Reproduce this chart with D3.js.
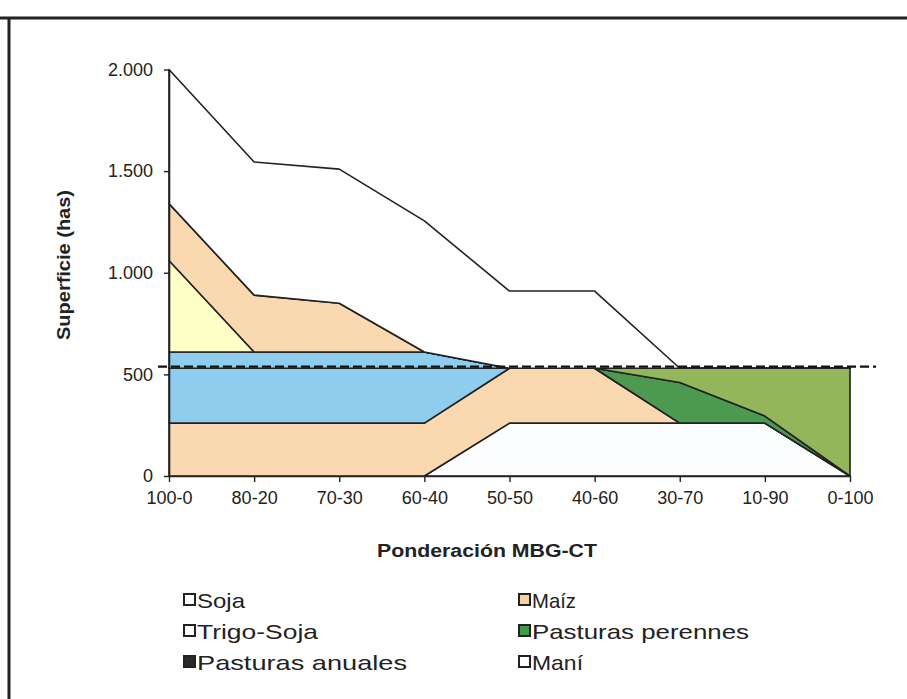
<!DOCTYPE html>
<html>
<head>
<meta charset="utf-8">
<script src="https://cdn.jsdelivr.net/npm/d3@7"></script>
<style>
  body { margin: 0; background: #fff; }
  svg { display: block; font-family: "Liberation Sans", Arial, sans-serif; }
</style>
</head>
<body>
<div id="chart"></div>
<script>
// categories on the x axis
const ponderaciones = ["100-0", "80-20", "70-30", "60-40", "50-50", "40-60", "30-70", "10-90", "0-100"];

// lower block (below the 530 ha limit), bottom to top
const bajoManí        = [0, 0, 0, 0, 260, 260, 260, 260, 0];
const bajoMaíz        = [260, 260, 260, 260, 270, 270, 0, 0, 0];
const bajoTrigoSoja   = [270, 270, 270, 270, 0, 0, 0, 0, 0];
const bajoPastPeren   = [0, 0, 0, 0, 0, 0, 200, 35, 0];
const bajoPastAnual   = [0, 0, 0, 0, 0, 0, 70, 235, 530];
// upper block, stacked on top
const altoTrigoSoja   = [80, 80, 80, 80, 0, 0, 0, 0, 0];
const altoPastAnual   = [450, 0, 0, 0, 0, 0, 0, 0, 0];
const altoMaíz        = [280, 280, 240, 0, 0, 0, 0, 0, 0];
const altoSoja        = [660, 655, 660, 645, 380, 380, 0, 0, 0];

const limite = 538;

const yTicks = [0, 500, 1000, 1500, 2000];
const yTickLabels = ["0", "500", "1.000", "1.500", "2.000"];

const legendNames = ["Soja", "Maíz", "Trigo-Soja", "Pasturas perennes", "Pasturas anuales", "Maní"];
const legendColors = ["#ffffff", "#f5d3a3", "#ffffff", "#3f9a4a", "#2a2a2a", "#ffffff"];
const legendWidths = [48, 44, 121, 217, 210, 51];

const layers = [
  { vals: bajoManí, fill: "#fcfdfe" },
  { vals: bajoMaíz, fill: "#fad8b0" },
  { vals: bajoTrigoSoja, fill: "#8ecdee" },
  { vals: bajoPastPeren, fill: "#4c9a50" },
  { vals: bajoPastAnual, fill: "#94b65a" },
  { vals: altoTrigoSoja, fill: "#8ecdee" },
  { vals: altoPastAnual, fill: "#ffffc8" },
  { vals: altoMaíz, fill: "#fad8b0" },
  { vals: altoSoja, fill: "#ffffff" }
];

const W = 907, H = 699;
const svg = d3.select("#chart").append("svg")
  .attr("width", W).attr("height", H);

svg.append("rect").attr("width", W).attr("height", H).attr("fill", "#fff");

// frame
svg.append("line").attr("x1", 0).attr("x2", W).attr("y1", 18).attr("y2", 18)
  .attr("stroke", "#222").attr("stroke-width", 3);
svg.append("line").attr("x1", 9).attr("x2", 9).attr("y1", 17).attr("y2", H)
  .attr("stroke", "#222").attr("stroke-width", 3);

const x = d3.scalePoint().domain(ponderaciones).range([169, 850]);
const y = d3.scaleLinear().domain([0, 2000]).range([476, 69.5]);

// build stacks
const data = ponderaciones.map((p, i) => {
  const row = { p };
  layers.forEach((l, j) => row["s" + j] = l.vals[i]);
  return row;
});
const stack = d3.stack().keys(layers.map((l, j) => "s" + j));
const series = stack(data);

const area = d3.area()
  .x(d => x(d.data.p))
  .y0(d => y(d[0]))
  .y1(d => y(d[1]));

svg.append("g").selectAll("path")
  .data(series)
  .join("path")
    .attr("d", area)
    .attr("fill", (d, i) => layers[i].fill)
    .attr("stroke", "#222")
    .attr("stroke-width", 1.6)
    .attr("stroke-linejoin", "round");

// limit line
svg.append("line")
  .attr("x1", x(ponderaciones[0]) - 11)
  .attr("x2", x(ponderaciones[ponderaciones.length - 1]) + 26)
  .attr("y1", y(limite)).attr("y2", y(limite))
  .attr("stroke", "#111").attr("stroke-width", 2.4)
  .attr("stroke-dasharray", "9,4");

// axes
const yAxis = svg.append("g")
  .attr("transform", `translate(${x(ponderaciones[0])},0)`)
  .call(d3.axisLeft(y).tickValues(yTicks).tickFormat((d, i) => yTickLabels[i]).tickSize(5).tickSizeOuter(0).tickPadding(11));
yAxis.select(".domain").attr("stroke", "#222").attr("stroke-width", 1.6);
yAxis.selectAll("line").attr("stroke", "#222").attr("stroke-width", 1.4);
yAxis.selectAll("text").attr("font-size", 18).attr("fill", "#222")
  .attr("font-family", "'Liberation Sans', Arial, sans-serif");

const xAxis = svg.append("g")
  .attr("transform", `translate(0,${y(0)})`)
  .call(d3.axisBottom(x).tickSize(6).tickSizeOuter(0).tickPadding(9));
xAxis.select(".domain").attr("stroke", "#222").attr("stroke-width", 1.6);
xAxis.selectAll("line").attr("stroke", "#222").attr("stroke-width", 1.4);
xAxis.selectAll("text").attr("font-size", 18).attr("fill", "#222")
  .attr("font-family", "'Liberation Sans', Arial, sans-serif");

// axis titles
svg.append("text")
  .attr("transform", "translate(70,265) rotate(-90)")
  .attr("text-anchor", "middle")
  .attr("font-size", 18).attr("font-weight", "bold").attr("fill", "#222")
  .attr("textLength", 150).attr("lengthAdjust", "spacingAndGlyphs")
  .text("Superficie (has)");

svg.append("text")
  .attr("x", 487).attr("y", 557)
  .attr("text-anchor", "middle")
  .attr("font-size", 18).attr("font-weight", "bold").attr("fill", "#222")
  .attr("textLength", 220).attr("lengthAdjust", "spacingAndGlyphs")
  .text("Ponderación MBG-CT");

// legend
const legend = svg.append("g");
legendNames.forEach((name, i) => {
  const col = i % 2, row = Math.floor(i / 2);
  const lx = col === 0 ? 184 : 519;
  const ly = 600 + row * 31;
  legend.append("rect")
    .attr("x", lx).attr("y", ly - 6).attr("width", 11).attr("height", 11)
    .attr("fill", legendColors[i]).attr("stroke", "#222").attr("stroke-width", 2);
  legend.append("text")
    .attr("x", lx + 13).attr("y", ly + 8)
    .attr("font-size", 21).attr("fill", "#222")
    .attr("textLength", legendWidths[i]).attr("lengthAdjust", "spacingAndGlyphs")
    .text(name);
});
</script>
</body>
</html>
